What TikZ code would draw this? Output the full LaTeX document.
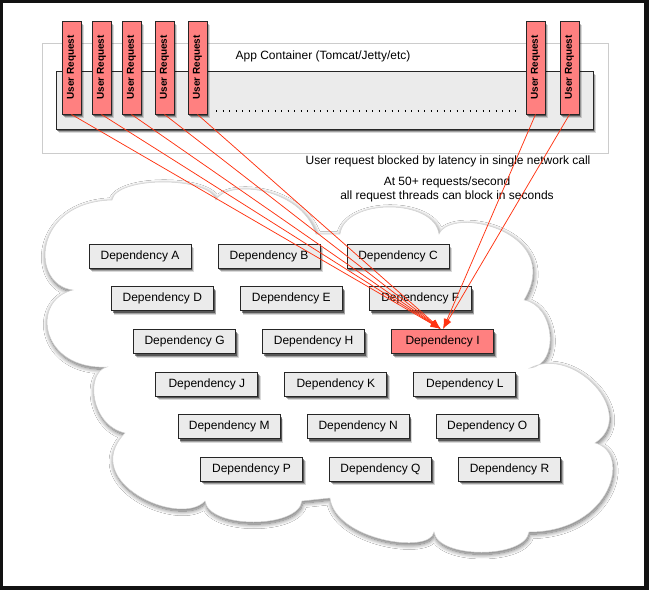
\documentclass[tikz,border=0pt]{standalone}
\usepackage{fontspec}
\usepackage{graphicx}
\setmainfont{Liberation Sans}
\usetikzlibrary{arrows.meta,shadows.blur}
\definecolor{depgray}{RGB}{235,235,235}
\definecolor{salmon}{RGB}{255,128,128}
\definecolor{arrowred}{RGB}{255,51,17}
\definecolor{framegray}{RGB}{204,204,204}
\begin{document}
\begin{tikzpicture}[x=1pt,y=-1pt,
  boxshadow/.style={
    preaction={fill=black,opacity=0.15,transform canvas={xshift=3pt,yshift=-4.2pt}},
    preaction={fill=black,opacity=0.25,transform canvas={xshift=2.2pt,yshift=-3.2pt}},
    preaction={fill=black,opacity=0.45,transform canvas={xshift=1.4pt,yshift=-2.2pt}}},
  depbox/.style={draw=black!85,line width=0.9pt,fill=depgray,minimum width=102pt,minimum height=24pt,inner sep=0pt,font=\fontsize{12}{14}\selectfont,boxshadow},
  hotbox/.style={depbox,fill=salmon},
  ureqbox/.style={draw=black!85,line width=0.9pt,fill=salmon,minimum width=19pt,minimum height=93pt,inner sep=0pt,font=\fontsize{10}{12}\selectfont\bfseries,boxshadow},
  outerbox/.style={draw=framegray,line width=0.7pt,minimum width=566pt,minimum height=110pt,inner sep=0pt},
  innerbox/.style={draw=black!85,line width=0.9pt,fill=depgray,minimum width=537pt,minimum height=58pt,inner sep=0pt,boxshadow},
  txt/.style={font=\fontsize{12}{14}\selectfont,inner sep=0pt},
  cloudshape/.style={fill=white,draw=black!18,line width=0.5pt,blur shadow={shadow xshift=0.8pt,shadow yshift=-2.2pt,shadow blur radius=4.5pt,shadow blur steps=10,shadow opacity=60}},
  req/.style={draw=arrowred,line width=0.75pt,-{Latex[length=10pt,width=7pt]}},
  dots/.style={line width=1.4pt,dash pattern=on 1.4pt off 5.1pt}
]
\useasboundingbox (0,0) rectangle (649,590);
\fill[black!93] (0,0) rectangle (649,590);
\fill[white] (3,3) rectangle (644,586);

% app container
\node[outerbox] (appc) at (325,98) {};
\node[txt] (applabel) at (323,56.5) {App Container (Tomcat/Jetty/etc)};
\node[innerbox] (inner) at (324.5,100) {};
\coordinate (dotA) at (216,111);
\coordinate (dotB) at (517,111);
\draw[dots] (dotA) -- (dotB);

% user requests
\foreach \n/\x in {1/71.5,2/101.5,3/131.5,4/164.5,5/197.5,6/535.5,7/569.5}{
  \node[ureqbox] (u\n) at (\x,67.5) {\rotatebox{90}{User Request}};
}

% cloud
\path[cloudshape]
  (73,290) .. controls (30,285) and (32,202) .. (112,200)
  .. controls (116,176) and (210,176) .. (216,200)
  .. controls (225,180) and (300,185) .. (316,234)
  -- (340,234)
  .. controls (345,198) and (434,198) .. (439,234)
  .. controls (452,205) and (565,232) .. (524,300)
  .. controls (555,305) and (560,365) .. (530,368)
  .. controls (575,345) and (638,415) .. (595,443)
  .. controls (632,452) and (612,532) .. (529,532)
  .. controls (525,559) and (438,559) .. (434,532)
  .. controls (430,555) and (335,540) .. (330,498)
  -- (302,501)
  .. controls (298,529) and (209,529) .. (205,501)
  .. controls (180,528) and (78,482) .. (125,433)
  .. controls (90,425) and (85,372) .. (107,367)
  .. controls (40,370) and (30,300) .. (73,290)
  -- cycle;

% captions
\node[txt] (blocked) at (448,161) {User request blocked by latency in single network call};
\node[txt,align=center] (rate) at (447,189) {At 50+ requests/second\\all request threads can block in seconds};

% dependencies
\foreach \name/\r/\c in {A/0/0,B/0/1,C/0/2,D/1/0,E/1/1,F/1/2,G/2/0,H/2/1,J/3/0,K/3/1,L/3/2,M/4/0,N/4/1,O/4/2,P/5/0,Q/5/1,R/5/2}{
  \node[depbox] (d\name) at ({140+22.3*\r+129*\c},{256+42.65*\r}) {Dependency \name};
}
\node[hotbox] (dI) at ({140+22.3*2+129*2},{256+42.65*2}) {Dependency I};

% request lines
\foreach \n in {1,2,3,4,5}{
  \draw[req] (u\n.south) -- ([xshift=-2pt]dI.north);
}
\foreach \n in {6,7}{
  \draw[req] (u\n.south) -- ([xshift=0.5pt]dI.north);
}
\end{tikzpicture}
\end{document}
